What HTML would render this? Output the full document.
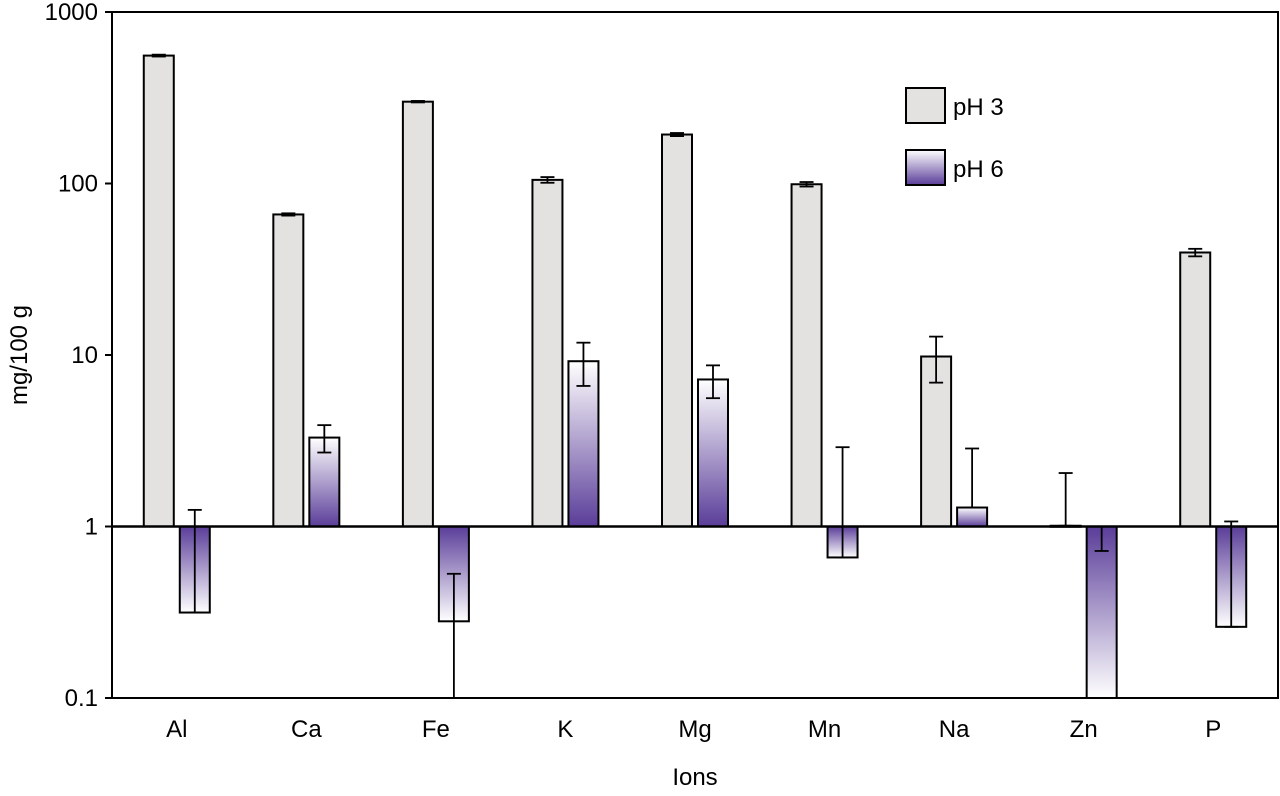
<!DOCTYPE html>
<html><head><meta charset="utf-8"><style>
body{margin:0;background:#fff;width:1280px;height:791px;overflow:hidden;font-family:"Liberation Sans",sans-serif}
</style></head><body>
<svg id="chart" width="1280" height="791" xmlns="http://www.w3.org/2000/svg">
<defs>
<linearGradient id="gUp" x1="0" y1="1" x2="0" y2="0"><stop offset="0" stop-color="#5a3d99"/><stop offset="1" stop-color="#ffffff"/></linearGradient>
<linearGradient id="gDown" x1="0" y1="0" x2="0" y2="1"><stop offset="0" stop-color="#5a3d99"/><stop offset="1" stop-color="#ffffff"/></linearGradient>
<linearGradient id="gLeg" x1="0" y1="1" x2="0" y2="0"><stop offset="0" stop-color="#5a3d99"/><stop offset="1" stop-color="#ffffff"/></linearGradient>
</defs>
<g id="bars"></g>
<rect x="112" y="12" width="1166" height="686" fill="none" stroke="#000" stroke-width="2"/>
<g id="axes"></g>
<text transform="translate(27,355) rotate(-90)" text-anchor="middle" font-size="24">mg/100 g</text>
<text x="695" y="785" text-anchor="middle" font-size="24">Ions</text>
<g>
<rect x="906" y="88" width="39" height="35" fill="#e4e2e1" stroke="#000" stroke-width="2"/>
<text x="953" y="115" font-size="24">pH 3</text>
<rect x="906" y="150" width="39" height="35" fill="url(#gLeg)" stroke="#000" stroke-width="2"/>
<text x="953" y="177" font-size="24">pH 6</text>
</g>
</svg>
<script>
const categories=["Al","Ca","Fe","K","Mg","Mn","Na","Zn","P"];
const ph3=[557,66,300,105,193,99,9.8,1.01,39.6];
const ph3Lo=[550,65,297,101,189,96,6.9,1.01,37.6];
const ph3Hi=[564,67,303,109,197,102,12.8,2.05,41.6];
const ph6=[0.315,3.3,0.28,9.2,7.2,0.66,1.29,0.1,0.26];
const ph6Lo=[0.315,2.7,0.1,6.6,5.6,0.66,1.29,0.72,0.26];
const ph6Hi=[1.25,3.9,0.53,11.8,8.7,2.9,2.85,1,1.07];
const yTicks=[0.1,1,10,100,1000];
const yTickLabels=["0.1","1","10","100","1000"];
const NS="http://www.w3.org/2000/svg";
const X0=112,X1=1278,Y0=698,Y1=12;
function y(v){return Y0-(Math.log10(v)+1)/4*(Y0-Y1);}
const band=(X1-X0)/categories.length;
function xc(i){return X0+band*(i+0.5);}
function mk(parent,tag,attrs){const e=document.createElementNS(NS,tag);for(const k in attrs)e.setAttribute(k,attrs[k]);parent.appendChild(e);return e;}
const bars=document.getElementById('bars'),axes=document.getElementById('axes');
const bw=30;
function errbar(cx,lo,hi,name){
  const g=mk(bars,'g',{});
  
  
  mk(g,'line',{x1:cx,x2:cx,y1:y(lo),y2:y(hi),stroke:'#000','stroke-width':1.8});
  mk(g,'line',{x1:cx-7,x2:cx+7,y1:y(hi),y2:y(hi),stroke:'#000','stroke-width':1.8});
  if(lo>0.1) mk(g,'line',{x1:cx-7,x2:cx+7,y1:y(lo),y2:y(lo),stroke:'#000','stroke-width':1.8});
}
categories.forEach((c,i)=>{
  const cx=xc(i);
  const x3=cx-bw-3, x6=cx+3;
  const t3=y(ph3[i]), b=y(1);
  const r3=mk(bars,'rect',{x:x3,y:Math.min(t3,b),width:bw,height:Math.max(1,Math.abs(b-t3)),fill:'#e4e2e1',stroke:'#000','stroke-width':2});
  
  
  const t6=y(ph6[i]);
  const up=ph6[i]>=1;
  const r6=mk(bars,'rect',{x:x6,y:Math.min(t6,b),width:bw,height:Math.abs(b-t6),fill:up?'url(#gUp)':'url(#gDown)',stroke:'#000','stroke-width':2});
  
  
  errbar(x3+bw/2,ph3Lo[i],ph3Hi[i],'error-ph3-'+c.toLowerCase());
  errbar(x6+bw/2,ph6Lo[i],ph6Hi[i],'error-ph6-'+c.toLowerCase());
  const t=mk(axes,'text',{x:cx,y:737,'text-anchor':'middle','font-size':24});
  t.textContent=c;
  
  
});
const base=mk(axes,'line',{x1:X0,x2:X1,y1:y(1),y2:y(1),stroke:'#000','stroke-width':2.5});


yTicks.forEach((v,i)=>{
  mk(axes,'line',{x1:X0-7,x2:X0,y1:y(v),y2:y(v),stroke:'#000','stroke-width':2});
  const t=mk(axes,'text',{x:X0-14,y:y(v)+8,'text-anchor':'end','font-size':24});
  t.textContent=yTickLabels[i];
  
  
});
</script>
</body></html>
